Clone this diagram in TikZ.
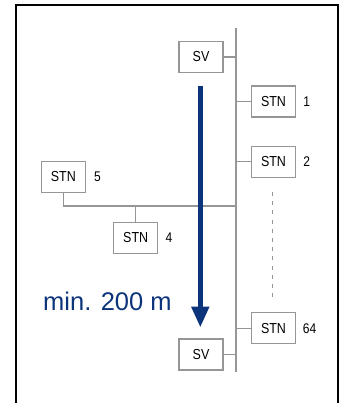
\documentclass[tikz,border=0pt]{standalone}
\usepackage{fontspec}
\setmainfont{Liberation Sans}
\newfontfamily\condfont[FakeStretch=0.86]{Liberation Sans}
\usetikzlibrary{arrows.meta}
\definecolor{linegray}{RGB}{150,150,150}
\definecolor{darkblue}{RGB}{12,52,122}
\tikzset{
  stnbox/.style={draw=linegray, line width=1.3pt, minimum width=44pt, minimum height=31pt, inner sep=0pt, font=\condfont\fontsize{14.5}{14.5}\selectfont},
  numlabel/.style={anchor=west, inner sep=0pt, font=\condfont\fontsize{14}{14}\selectfont},
  wire/.style={draw=linegray, line width=1.4pt},
}
\begin{document}
\begin{tikzpicture}[x=1pt,y=-1pt]
\useasboundingbox (0,0) rectangle (345,403);
% frame (open at bottom)
\draw[line width=2pt] (15.7,403) -- (15.7,4.7) -- (338.3,4.7) -- (338.3,403);
% bus
\coordinate (bustop) at (236,27.7);
\coordinate (busbot) at (236,372.3);
\draw[wire] (bustop) -- (busbot);
% boxes
\node[stnbox] (sv1) at (201,57) {SV};
\node[stnbox] (stn1) at (273.5,101.5) {STN};
\node[stnbox] (stn2) at (273.5,161.7) {STN};
\node[stnbox] (stn5) at (63.3,176.8) {STN};
\node[stnbox] (stn4) at (135.7,237.7) {STN};
\node[stnbox] (stn64) at (273.5,328.2) {STN};
\node[stnbox] (sv2) at (201,354.5) {SV};
% labels
\node[numlabel] (l1) at ([xshift=7pt]stn1.east) {1};
\node[numlabel] (l2) at ([xshift=7pt]stn2.east) {2};
\node[numlabel] (l5) at ([xshift=8pt]stn5.east) {5};
\node[numlabel] (l4) at ([xshift=7pt]stn4.east) {4};
\node[numlabel] (l64) at ([xshift=6.5pt]stn64.east) {64};
% connectors to bus
\draw[wire] (sv1.east) -- (sv1.east -| bustop);
\draw[wire] (stn1.west) -- (stn1.west -| bustop);
\draw[wire] (stn2.west) -- (stn2.west -| bustop);
\draw[wire] (stn64.west) -- (stn64.west -| bustop);
\draw[wire] (sv2.east) -- (sv2.east -| bustop);
% branch
\coordinate (brleft) at (stn5.south |- 0,206);
\coordinate (brright) at (bustop |- 0,206);
\draw[wire] (stn5.south) -- (brleft) -- (brright);
\draw[wire] (stn4.north) -- (stn4.north |- brleft);
% dashed continuation
\coordinate (dtop) at (272.5,192);
\coordinate (dbot) at (272.5,299);
\draw[draw=linegray, line width=1.2pt, dash pattern=on 4pt off 5.2pt] (dtop) -- (dbot);
% distance arrow
\coordinate (atop) at (200.3,85.7);
\coordinate (abot) at (200.3,327.3);
\draw[darkblue, line width=4.7pt, -{Triangle[length=20.6pt,width=17pt]}] (atop) -- (abot);
\node[anchor=base west, inner sep=0pt, text=darkblue, font=\fontsize{25.5}{25.5}\selectfont] (dist) at (43,310.7) {min. 200 m};
\end{tikzpicture}
\end{document}
